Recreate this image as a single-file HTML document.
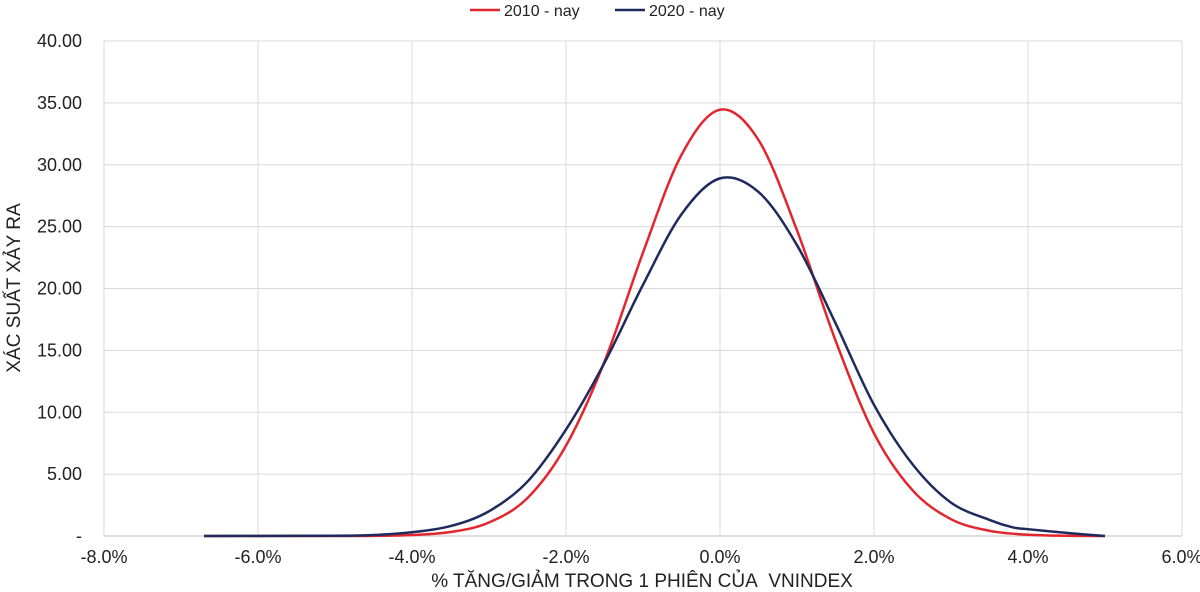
<!DOCTYPE html>
<html><head><meta charset="utf-8">
<style>
html,body{margin:0;padding:0;background:#fff;}
svg{display:block;font-family:"Liberation Sans",Arial,sans-serif;}
</style></head>
<body>
<svg id="chart" width="1200" height="592" viewBox="0 0 1200 592">
  <g id="grid"></g>
  <g id="yticks"></g>
  <g id="xticks"></g>
  <g id="series"></g>
  <g>
    <g>
      <line x1="470" y1="10" x2="500" y2="10" stroke="#e3262d" stroke-width="2.5"/>
      <text x="504" y="16" font-size="16" fill="#222">2010 - nay</text>
    </g>
    <g>
      <line x1="615" y1="10" x2="645" y2="10" stroke="#1f2a5e" stroke-width="2.5"/>
      <text x="649" y="16" font-size="16" fill="#222">2020 - nay</text>
    </g>
  </g>
  <text x="642" y="587" text-anchor="middle" font-size="19" fill="#222">% TĂNG/GIẢM TRONG 1 PHIÊN CỦA&#160; VNINDEX</text>
  <text transform="translate(20,288) rotate(-90)" text-anchor="middle" font-size="19" fill="#222">XÁC SUẤT XẢY RA</text>
</svg>
<script>
const xTicks = [-8, -6, -4, -2, 0, 2, 4, 6];
const yTicks = [0, 5, 10, 15, 20, 25, 30, 35, 40];
const redX = [-6.7, -5, -4.5, -4, -3.5, -3, -2.5, -2, -1.5, -1, -0.5, 0, 0.5, 1, 1.5, 2, 2.5, 3, 3.5, 4, 4.5, 5];
const redY = [0, 0, 0.01, 0.08, 0.32, 1.09, 3.07, 7.3, 14.1, 22.9, 30.8, 34.45, 32.0, 24.7, 15.8, 8.3, 3.7, 1.36, 0.42, 0.1, 0.02, 0];
const blueX = [-6.7, -5, -4.5, -4, -3.5, -3, -2.5, -2, -1.5, -1, -0.5, 0, 0.5, 1, 1.5, 2, 2.5, 3, 3.5, 3.8, 4, 4.5, 5];
const blueY = [0, 0.02, 0.08, 0.3, 0.8, 2.0, 4.4, 8.6, 14.0, 20.3, 26.0, 28.9, 27.8, 23.5, 17.2, 10.6, 5.8, 2.7, 1.3, 0.7, 0.55, 0.25, 0];

const X0 = 104, X1 = 1182, Y0 = 536, Y1 = 41;
function sx(v){ return X0 + (v + 8) / 14 * (X1 - X0); }
function sy(v){ return Y0 - v / 40 * (Y0 - Y1); }
const NS = "http://www.w3.org/2000/svg";
function mk(tag, attrs, parent){
  const e = document.createElementNS(NS, tag);
  for (const k in attrs) e.setAttribute(k, attrs[k]);
  parent.appendChild(e);
  return e;
}
const grid = document.getElementById('grid');
const yg = document.getElementById('yticks');
const xg = document.getElementById('xticks');
yTicks.forEach(t => {
  const l = mk('line', {x1: X0, x2: X1, y1: sy(t), y2: sy(t), stroke: t === 0 ? '#bfbfbf' : '#d9d9d9', 'stroke-width': 1}, grid);
  
  
  const tx = mk('text', {x: 82, y: sy(t) + 6, 'text-anchor': 'end', 'font-size': 18, fill: '#222'}, yg);
  tx.textContent = t === 0 ? '-' : t.toFixed(2);
  
  
});
xTicks.forEach(t => {
  const l = mk('line', {x1: sx(t), x2: sx(t), y1: Y1, y2: Y0, stroke: '#d9d9d9', 'stroke-width': 1}, grid);
  
  
  const tx = mk('text', {x: sx(t), y: 563, 'text-anchor': 'middle', 'font-size': 18, fill: '#222'}, xg);
  tx.textContent = t.toFixed(1) + '%';
  
  
});
function smoothPath(xs, ys){
  const p = xs.map((x, i) => [sx(x), sy(ys[i])]);
  let d = 'M' + p[0][0] + ',' + p[0][1];
  for (let i = 0; i < p.length - 1; i++){
    const p0 = p[Math.max(0, i - 1)], p1 = p[i], p2 = p[i + 1], p3 = p[Math.min(p.length - 1, i + 2)];
    const c1 = [p1[0] + (p2[0] - p0[0]) / 6, p1[1] + (p2[1] - p0[1]) / 6];
    const c2 = [p2[0] - (p3[0] - p1[0]) / 6, p2[1] - (p3[1] - p1[1]) / 6];
    d += ' C' + c1 + ' ' + c2 + ' ' + p2;
  }
  return d;
}
const sg = document.getElementById('series');
const red = mk('path', {d: smoothPath(redX, redY), fill: 'none', stroke: '#e3262d', 'stroke-width': 2.5}, sg);


const blue = mk('path', {d: smoothPath(blueX, blueY), fill: 'none', stroke: '#1f2a5e', 'stroke-width': 2.5}, sg);


</script>
</body></html>
